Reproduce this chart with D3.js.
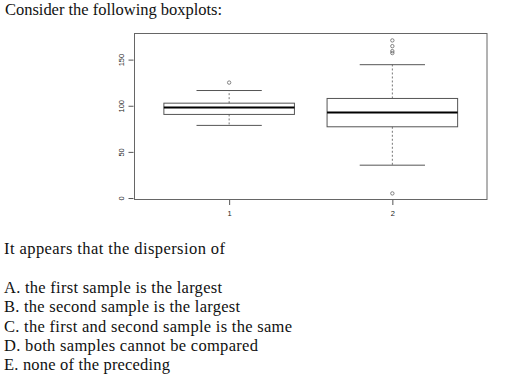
<!DOCTYPE html>
<html>
<head>
<meta charset="utf-8">
<script src="https://cdn.jsdelivr.net/npm/d3@7"></script>
<style>
  body { margin: 0; background: #fff; }
  .q { font-family: "Liberation Serif", "Times New Roman", serif; font-size: 16.5px; fill: #111; }
  .tick text { font-family: "Liberation Sans", Arial, sans-serif; font-size: 7.5px; fill: #222; }
</style>
</head>
<body>
<svg id="chart" width="513" height="388"></svg>
<script>
// boxplot stats
var groups = ["1", "2"];
var lowerWhisker = [78.7, 35.6];
var q1 = [90.6, 77.2];
var medians = [98.2, 92.8];
var q3 = [102.8, 107.9];
var upperWhisker = [116.5, 144.5];
var outliers = [[125.1], [5, 157.1, 159.2, 164.6, 170.8]];
var yTicks = [0, 50, 100, 150];

var questionLines = ["It appears that the dispersion of"];
var answers = [
  "A. the first sample is the largest",
  "B. the second sample is the largest",
  "C. the first and second sample is the same",
  "D. both samples cannot be compared",
  "E. none of the preceding"
];
var answerWidths = [218, 236, 288, 254, 166];

var svg = d3.select("#chart");

svg.append("text").attr("class", "q")
   .attr("x", 5).attr("y", 15)
   .attr("textLength", 217).attr("lengthAdjust", "spacing")
   .text("Consider the following boxplots:");

var plot = {left: 134.5, right: 487, top: 33.5, bottom: 199.5};

var x = d3.scaleLinear().domain([0.42, 2.58]).range([plot.left, plot.right]);
var y = d3.scaleLinear().domain([-1.6, 178.3]).range([plot.bottom, plot.top]);

var stroke = "#555";

svg.append("rect")
   .attr("x", plot.left).attr("y", plot.top)
   .attr("width", plot.right - plot.left).attr("height", plot.bottom - plot.top)
   .attr("fill", "none").attr("stroke", "#666");

var yAxis = svg.append("g")
   .attr("transform", "translate(" + (plot.left - 1) + ",0)")
   .call(d3.axisLeft(y).tickValues(yTicks).tickSize(5));
yAxis.select(".domain").remove();
yAxis.selectAll(".tick line").attr("stroke", stroke);
yAxis.selectAll(".tick text")
   .attr("x", -12).attr("y", 0).attr("dy", "0.35em").attr("text-anchor", "middle")
   .attr("transform", "rotate(-90,-12,0)");

var xAxis = svg.append("g")
   .attr("transform", "translate(0," + (plot.bottom + 0.5) + ")")
   .call(d3.axisBottom(x).tickValues([1, 2]).tickFormat(function(d) { return groups[d - 1]; })
         .tickSize(5).tickPadding(6));
xAxis.select(".domain").remove();
xAxis.selectAll(".tick line").attr("stroke", stroke);

var boxW = 0.4, capW = 0.2;
var box = svg.selectAll(".box").data(groups).enter().append("g").attr("class", "box");

box.append("line") // upper dashed whisker
   .attr("x1", function(d, i) { return x(i + 1); }).attr("x2", function(d, i) { return x(i + 1); })
   .attr("y1", function(d, i) { return y(q3[i]); }).attr("y2", function(d, i) { return y(upperWhisker[i]); })
   .attr("stroke", "#777").attr("stroke-dasharray", "2,2");
box.append("line")
   .attr("x1", function(d, i) { return x(i + 1); }).attr("x2", function(d, i) { return x(i + 1); })
   .attr("y1", function(d, i) { return y(q1[i]); }).attr("y2", function(d, i) { return y(lowerWhisker[i]); })
   .attr("stroke", "#777").attr("stroke-dasharray", "2,2");
[upperWhisker, lowerWhisker].forEach(function(arr) {
  box.append("line")
     .attr("x1", function(d, i) { return x(i + 1 - capW); }).attr("x2", function(d, i) { return x(i + 1 + capW); })
     .attr("y1", function(d, i) { return y(arr[i]); }).attr("y2", function(d, i) { return y(arr[i]); })
     .attr("stroke", stroke);
});
box.append("rect")
   .attr("x", function(d, i) { return x(i + 1 - boxW); })
   .attr("width", x(1 + boxW) - x(1 - boxW))
   .attr("y", function(d, i) { return y(q3[i]); })
   .attr("height", function(d, i) { return y(q1[i]) - y(q3[i]); })
   .attr("fill", "none").attr("stroke", stroke);
box.append("line")
   .attr("x1", function(d, i) { return x(i + 1 - boxW); }).attr("x2", function(d, i) { return x(i + 1 + boxW); })
   .attr("y1", function(d, i) { return y(medians[i]); }).attr("y2", function(d, i) { return y(medians[i]); })
   .attr("stroke", "#000").attr("stroke-width", 2);
box.each(function(d, i) {
  d3.select(this).selectAll("circle").data(outliers[i]).enter().append("circle")
    .attr("cx", x(i + 1)).attr("cy", function(v) { return y(v); }).attr("r", 1.7)
    .attr("fill", "none").attr("stroke", "#666").attr("stroke-width", 0.8);
});

svg.append("text").attr("class", "q")
   .attr("x", 4).attr("y", 254)
   .attr("textLength", 221).attr("lengthAdjust", "spacing")
   .text(questionLines[0]);

svg.selectAll(".ans").data(answers).enter().append("text")
   .attr("class", "q ans")
   .attr("x", 4).attr("y", function(d, i) { return 293 + i * 19.3; })
   .attr("textLength", function(d, i) { return answerWidths[i]; })
   .attr("lengthAdjust", "spacing")
   .text(function(d) { return d; });
</script>
</body>
</html>
